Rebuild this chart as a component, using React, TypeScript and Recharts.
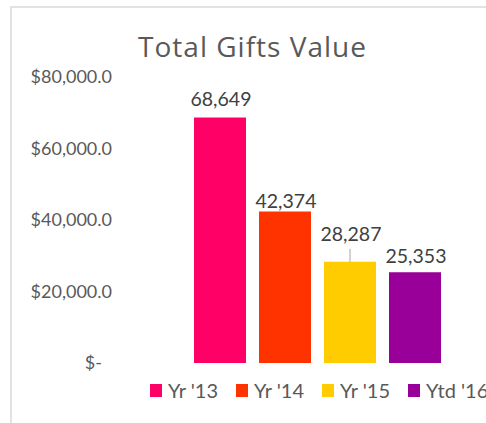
import React from 'react';
import { BarChart, Bar, XAxis, YAxis, Legend, LabelList } from 'recharts';

const categories = ['Total Gifts Value'];
const seriesNames = ["Yr '13", "Yr '14", "Yr '15", "Ytd '16"];
const seriesKeys = ['yr13', 'yr14', 'yr15', 'ytd16'];
const yr13 = [68649];
const yr14 = [42374];
const yr15 = [28287];
const ytd16 = [25353];
const yTicks = [0, 20000, 40000, 60000, 80000];

const colors = ['#FF0066', '#FF3300', '#FFCC00', '#990099'];
const labelLift = [12, 4, 21, 9];
const leader = [false, false, true, false];
const FONT = 'Lato, "Open Sans", sans-serif';

const data = categories.map((c, i) => ({
  name: c,
  yr13: yr13[i],
  yr14: yr14[i],
  yr15: yr15[i],
  ytd16: ytd16[i],
}));

const makeLabel = (idx: number) => (props: any) => {
  const { x, y, width, value } = props;
  const cx = Number(x) + Number(width) / 2 + 1;
  const top = Number(y);
  const base = top - labelLift[idx];
  return (
    <g>
      {leader[idx] && (
        <line x1={cx - 1} x2={cx - 1} y1={base + 8} y2={top} stroke="#a6a6a6" strokeWidth={1} />
      )}
      <text x={cx} y={base} textAnchor="middle" fill="#404040" fontSize={19.5} fontFamily={FONT}>
        {Number(value).toLocaleString('en-US')}
      </text>
    </g>
  );
};

const YTick = (props: any) => {
  const { x, y, payload } = props;
  const v = Number(payload.value);
  const label =
    v === 0
      ? '$-'
      : '$' + v.toLocaleString('en-US', { minimumFractionDigits: 1, maximumFractionDigits: 1 });
  return (
    <text
      x={Number(x) + (v === 0 ? -10 : 0)}
      y={y}
      dy="0.36em"
      textAnchor="end"
      fill="#595959"
      fontSize={18}
      fontFamily={FONT}
    >
      {label}
    </text>
  );
};

const LegendContent = (p: any) => (
  <div style={{ display: 'flex', fontFamily: FONT }}>
    {(p.payload || []).map((e: any, i: number) => (
      <div key={i} style={{ width: 86, height: 20, display: 'flex', alignItems: 'center', flex: '0 0 86px' }}>
        <span style={{ width: 12, height: 13, background: e.color, display: 'inline-block', marginRight: 6, flex: '0 0 12px' }} />
        <span style={{ fontSize: 20, color: '#595959', whiteSpace: 'nowrap', lineHeight: '20px' }}>{e.value}</span>
      </div>
    ))}
  </div>
);

export default function App() {
  return (
    <div
      style={{
        position: 'fixed',
        left: 0,
        top: 0,
        width: 486,
        height: 423,
        overflow: 'hidden',
        background: '#fff',
        fontFamily: FONT,
      }}
    >
      <div
        style={{
          position: 'absolute',
          left: 10,
          top: 6,
          width: 600,
          height: 500,
          border: '2px solid #e2e2e2',
        }}
      />
      <div
        style={{
          position: 'absolute',
          left: 0,
          top: 31,
          width: 505,
          textAlign: 'center',
          fontSize: 28,
          letterSpacing: 1,
          lineHeight: '30px',
          color: '#595959',
          whiteSpace: 'nowrap',
          fontFamily: '"Open Sans", sans-serif',
        }}
      >
        Total Gifts Value
      </div>
      <div style={{ position: 'absolute', left: 0, top: 0 }}>
        <BarChart
          width={560}
          height={423}
          data={data}
          margin={{ top: 77, right: 37, bottom: 60, left: 0 }}
          barGap={13}
        >
          <XAxis dataKey="name" hide />
          <YAxis
            width={112}
            domain={[0, 80000]}
            ticks={yTicks}
            axisLine={false}
            tickLine={false}
            tickSize={0}
            tickMargin={0}
            tick={<YTick />}
            interval={0}
          />
          <Legend
            verticalAlign="middle"
            align="center"
            layout="horizontal"
            wrapperStyle={{ top: 380, left: 150, width: 400, height: 20 }}
            content={<LegendContent />}
          />
          {seriesKeys.map((k, i) => (
            <Bar key={k} dataKey={k} name={seriesNames[i]} fill={colors[i]} barSize={52} isAnimationActive={false}>
              <LabelList dataKey={k} content={makeLabel(i)} />
            </Bar>
          ))}
        </BarChart>
      </div>
    </div>
  );
}
